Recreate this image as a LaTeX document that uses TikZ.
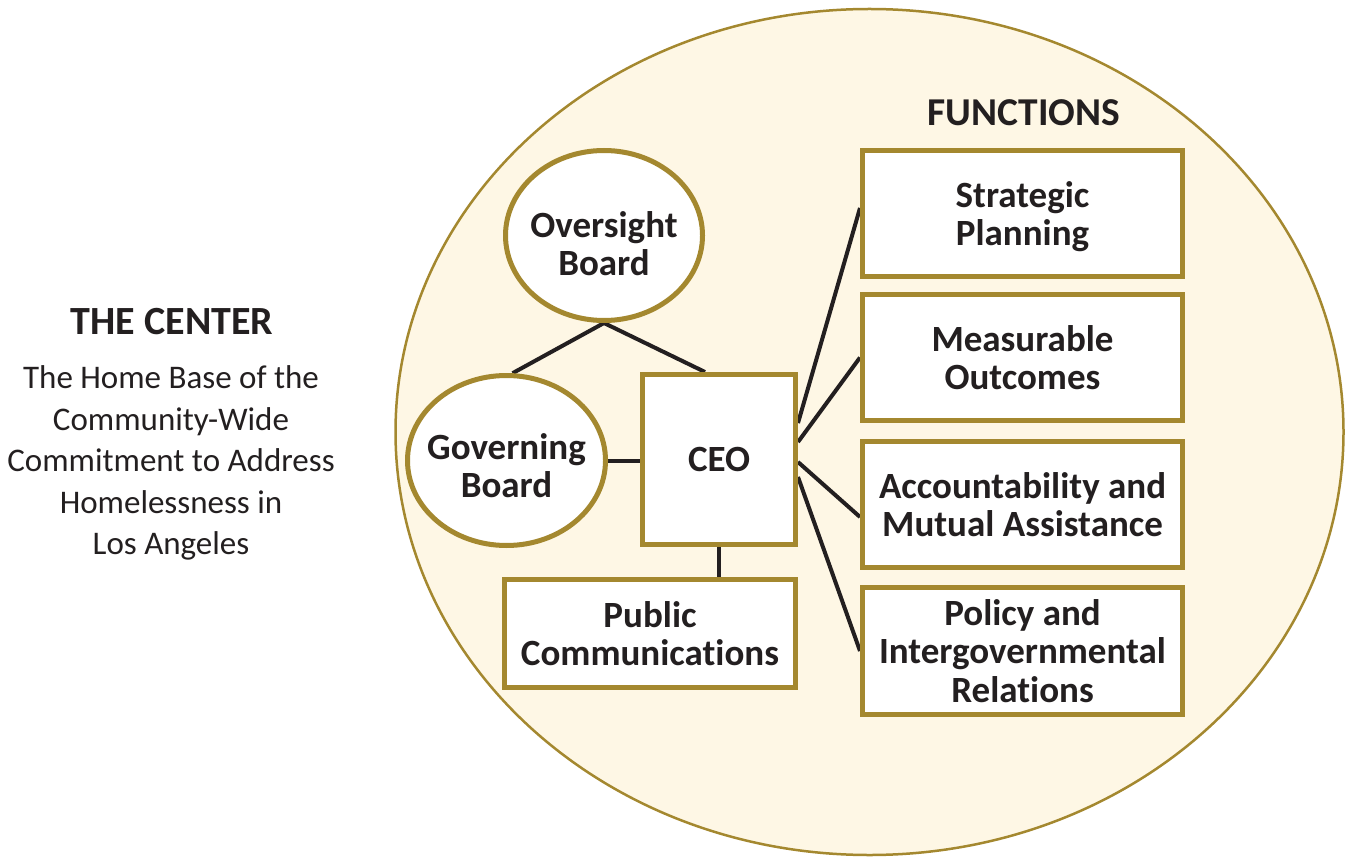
\documentclass[tikz,border=0pt]{standalone}
\usepackage{fontspec}
\setmainfont[Ligatures={NoCommon}]{Carlito}
\usetikzlibrary{shapes.geometric,backgrounds}
\definecolor{gold}{HTML}{A4882F}
\definecolor{cream}{HTML}{FEF7E5}
\definecolor{ink}{HTML}{231F20}
% invisible strut that makes a first line taller, lowering a label a little
\newcommand{\dropby}[1]{\rule{0pt}{#1}}
\begin{document}
\begin{tikzpicture}[x=1pt,y=-1pt,
  every node/.style={text=ink},
  unit/.style={draw=gold, line width=5pt, fill=white, inner sep=0pt, align=center,
    text depth=0pt, font=\bfseries\fontsize{37}{38.5}\selectfont},
  boxnode/.style={unit, rectangle},
  ovalnode/.style={unit, ellipse, inner xsep=-25pt, inner ysep=-5pt},
  funcbox/.style={boxnode, minimum width=320pt, minimum height=126pt},
  link/.style={draw=ink, line width=4pt},
]
\useasboundingbox (0,0) rectangle (1348,858);

% left-hand caption
\node[font=\bfseries\fontsize{40}{42}\selectfont] (centre) at (172,321.5) {THE CENTER};
\node[align=center, font=\fontsize{33}{41.5}\selectfont] (about) at (171,463)
  {The Home Base of the\\Community-Wide\\Commitment to Address\\Homelessness in\\Los Angeles};

% governance units
\node[ovalnode, minimum width=197pt, minimum height=170pt] (ov) at (604,235.5) {\dropby{42pt}Oversight\\Board};
\node[ovalnode, minimum width=198pt, minimum height=170pt] (gov) at (506.5,460.5) {\dropby{36pt}Governing\\Board};
\node[boxnode, minimum width=153pt, minimum height=170pt] (ceo) at (719,459.5) {CEO};
\node[boxnode, minimum width=291pt, minimum height=108pt] (pub) at (650,633.5) {Public\\Communications};

% functions column
\node[font=\bfseries\fontsize{39.5}{42}\selectfont] (fn) at (1024,112.5) {FUNCTIONS};
\node[funcbox] (strat) at (1022.5,213.5) {Strategic\\Planning};
\node[funcbox] (meas) at (1022.5,357.5) {Measurable\\Outcomes};
\node[funcbox] (acc) at (1022.5,504.5) {Accountability and\\Mutual Assistance};
\node[funcbox, minimum height=127pt] (pol) at (1022.5,651) {Policy and\\Intergovernmental\\Relations};

\begin{pgfonlayer}{background}
  % the centre as a whole
  \draw[gold, fill=cream, line width=2.5pt] (869.5,432) ellipse [x radius=474, y radius=423];
  % reporting lines
  \draw[link] (ov.south) -- (gov.86);
  \draw[link] (ov.south) -- ([xshift=-14pt]ceo.north);
  \draw[link] (gov.east) -- (gov.east -| ceo.west);
  \draw[link] (ceo.south) -- (ceo.south |- pub.north);
  \draw[link] ([yshift=36.5pt]ceo.east) -- ([yshift=5.5pt]strat.west);
  \draw[link] ([yshift=17.5pt]ceo.east) -- (meas.west);
  \draw[link] ([yshift=-2.5pt]ceo.east) -- ([yshift=-12.5pt]acc.west);
  \draw[link] ([yshift=-17.5pt]ceo.east) -- (pol.west);
\end{pgfonlayer}
\end{tikzpicture}
\end{document}
